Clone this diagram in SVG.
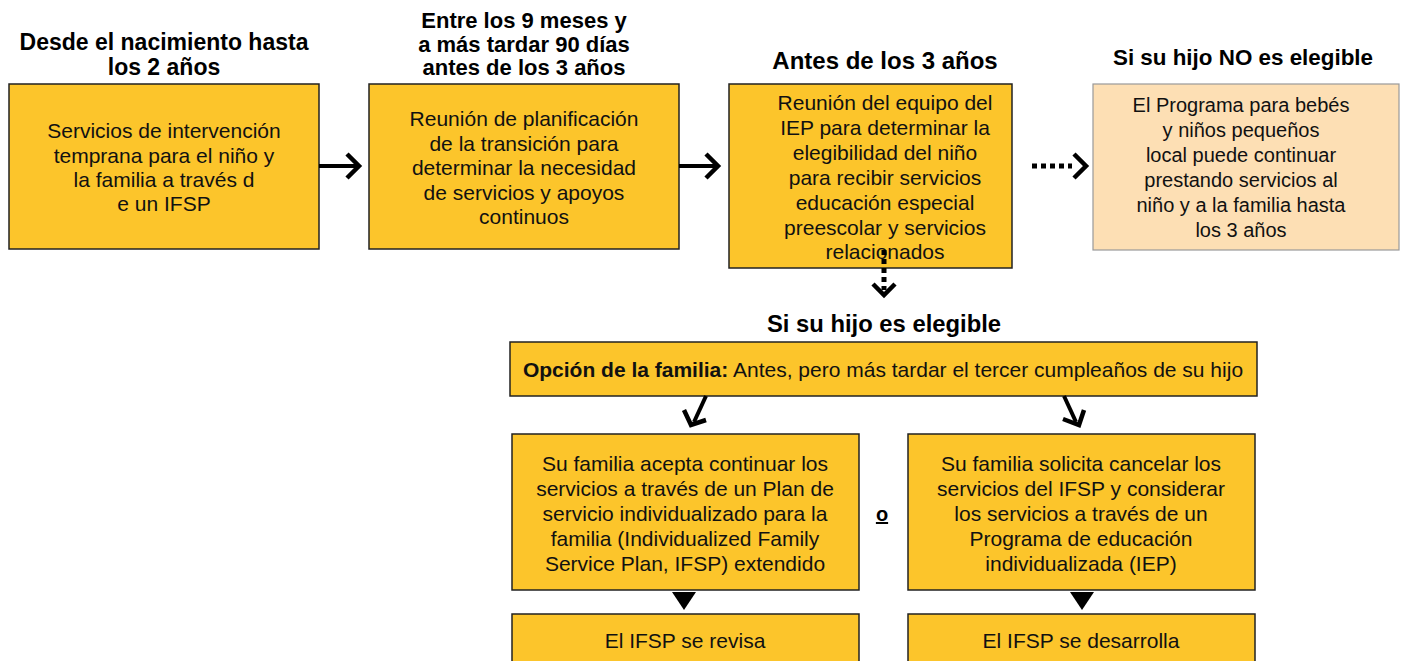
<svg xmlns="http://www.w3.org/2000/svg" width="1404" height="661" viewBox="0 0 1404 661">
<style>
.box{fill:#FCC52B;stroke:#222;stroke-width:1.5}
.peach{fill:#FDDFB4;stroke:#999;stroke-width:1.2}
.t{font-family:"Liberation Sans",Arial,sans-serif;font-size:21px;fill:#111;text-anchor:middle}
.h{font-family:"Liberation Sans",Arial,sans-serif;font-size:23px;font-weight:bold;fill:#000;text-anchor:middle}
.ln{stroke:#000;stroke-width:4;fill:none}
.dot{stroke:#000;stroke-width:5;fill:none;stroke-dasharray:5 4}
.head{stroke:#000;stroke-width:4.5;fill:none;stroke-linecap:butt;stroke-linejoin:miter}
</style>
<rect width="1404" height="661" fill="#fff"/>
<g id="title1"><text class="h" x="164" y="50">Desde el nacimiento hasta</text><text class="h" x="164" y="75">los 2 años</text></g>
<g id="title2"><text class="h" x="524" y="28" style="font-size:22px">Entre los 9 meses y</text><text class="h" x="524" y="52" style="font-size:22px">a más tardar 90 días</text><text class="h" x="524" y="75" style="font-size:22px">antes de los 3 años</text></g>
<g id="title3"><text class="h" x="885" y="69" style="font-size:24px">Antes de los 3 años</text></g>
<g id="title4"><text class="h" x="1243" y="65" style="font-size:22.4px">Si su hijo NO es elegible</text></g>
<g id="title5"><text class="h" x="884" y="332" style="font-size:23.8px">Si su hijo es elegible</text></g>

<g id="n1"><rect class="box" x="9" y="84" width="310" height="165"/>
<text class="t" x="164" y="138">Servicios de intervención</text>
<text class="t" x="164" y="163">temprana para el niño y</text>
<text class="t" x="164" y="187">la familia a través d</text>
<text class="t" x="164" y="211">e un IFSP</text></g>

<g id="n2"><rect class="box" x="369" y="84" width="310" height="165"/>
<text class="t" x="524" y="126">Reunión de planificación</text>
<text class="t" x="524" y="151">de la transición para</text>
<text class="t" x="524" y="175">determinar la necesidad</text>
<text class="t" x="524" y="200">de servicios y apoyos</text>
<text class="t" x="524" y="224">continuos</text></g>

<g id="n3"><rect class="box" x="729" y="84" width="283" height="184"/>
<text class="t" x="885" y="110">Reunión del equipo del</text>
<text class="t" x="885" y="135">IEP para determinar la</text>
<text class="t" x="885" y="160">elegibilidad del niño</text>
<text class="t" x="885" y="185">para recibir servicios</text>
<text class="t" x="885" y="210">educación especial</text>
<text class="t" x="885" y="235">preescolar y servicios</text>
<text class="t" x="885" y="259">relacionados</text></g>

<g id="n4"><rect class="peach" x="1093" y="84" width="306" height="166"/>
<text class="t" x="1241" y="112" style="font-size:20px">El Programa para bebés</text>
<text class="t" x="1241" y="137" style="font-size:20px">y niños pequeños</text>
<text class="t" x="1241" y="162" style="font-size:20px">local puede continuar</text>
<text class="t" x="1241" y="187" style="font-size:20px">prestando servicios al</text>
<text class="t" x="1241" y="212" style="font-size:20px">niño y a la familia hasta</text>
<text class="t" x="1241" y="237" style="font-size:20px">los 3 años</text></g>

<g id="n5"><rect class="box" x="510" y="342" width="747" height="54"/>
<text class="t" x="883" y="377"><tspan font-weight="bold">Opción de la familia:</tspan> Antes, pero más tardar el tercer cumpleaños de su hijo</text></g>

<g id="n6"><rect class="box" x="512" y="434" width="347" height="156"/>
<text class="t" x="685" y="471">Su familia acepta continuar los</text>
<text class="t" x="685" y="496">servicios a través de un Plan de</text>
<text class="t" x="685" y="521">servicio individualizado para la</text>
<text class="t" x="685" y="546">familia (Individualized Family</text>
<text class="t" x="685" y="571">Service Plan, IFSP) extendido</text></g>

<g id="or"><text class="h" x="882" y="521" style="font-size:20px;text-decoration:underline">o</text></g>

<g id="n7"><rect class="box" x="908" y="434" width="347" height="156"/>
<text class="t" x="1081" y="471">Su familia solicita cancelar los</text>
<text class="t" x="1081" y="496">servicios del IFSP y considerar</text>
<text class="t" x="1081" y="521">los servicios a través de un</text>
<text class="t" x="1081" y="546">Programa de educación</text>
<text class="t" x="1081" y="571">individualizada (IEP)</text></g>

<g id="n8"><rect class="box" x="512" y="614" width="347" height="56"/>
<text class="t" x="685" y="648">El IFSP se revisa</text></g>

<g id="n9"><rect class="box" x="908" y="614" width="347" height="56"/>
<text class="t" x="1081" y="648">El IFSP se desarrolla</text></g>

<g id="connectors">
<line class="ln" x1="319" y1="166" x2="357" y2="166"/>
<polyline class="head" points="347,154 359,166 347,178"/>
<line class="ln" x1="679" y1="166" x2="716" y2="166"/>
<polyline class="head" points="706,154 718,166 706,178"/>
<line class="dot" x1="1032" y1="166" x2="1072" y2="166"/>
<polyline class="head" points="1074,154 1086,166 1074,178"/>
<line class="dot" x1="884" y1="250" x2="884" y2="290"/>
<polyline class="head" points="873,284 884,295 895,284"/>
<line class="ln" x1="706" y1="396" x2="694" y2="422"/>
<polyline class="head" points="684,410 691,425 706,420"/>
<line class="ln" x1="1064" y1="396" x2="1076" y2="422"/>
<polyline class="head" points="1063,419 1079,425 1084,410"/>
<polygon points="672,592 696,592 684,610" fill="#000"/>
<polygon points="1070,592 1094,592 1082,610" fill="#000"/>
</g>
</svg>
